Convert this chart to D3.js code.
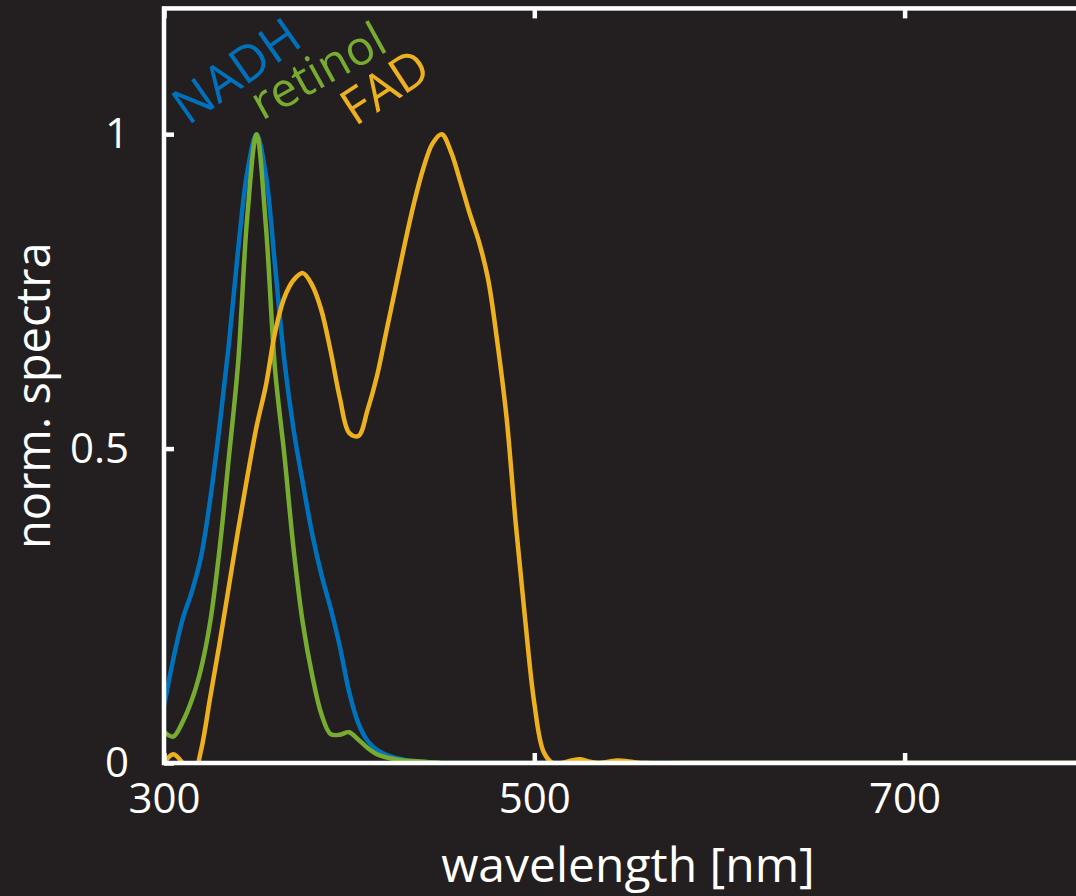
<!DOCTYPE html>
<html>
<head>
<meta charset="utf-8">
<script src="https://cdn.jsdelivr.net/npm/d3@7"></script>
<style>
  html, body { margin: 0; padding: 0; background: #231f20; }
  svg { display: block; }
  text { font-family: "Open Sans", "Noto Sans", sans-serif; fill: #ffffff; }
</style>
</head>
<body>
<svg id="chart" width="1076" height="896"></svg>
<script>
// Wavelength grid (nm) shared by the three spectra
const wavelengths = [
  300, 305, 310, 315, 320, 325, 330, 335, 340, 345,
  350, 355, 360, 365, 370, 375, 380, 385, 390, 395,
  400, 405, 410, 415, 420, 425, 430, 435, 440, 445,
  450, 455, 460, 465, 470, 475, 480, 485, 490, 495,
  500, 505, 510, 515, 520, 525, 530, 535, 540, 545,
  550, 555, 560, 600, 700, 800
];

// Normalised spectra
const nadh = [
  0.09, 0.165, 0.228, 0.272, 0.328, 0.42, 0.535, 0.665, 0.815, 0.94,
  1.0, 0.935, 0.79, 0.64, 0.53, 0.445, 0.365, 0.30, 0.246, 0.185,
  0.113, 0.063, 0.035, 0.021, 0.013, 0.008, 0.005, 0.003, 0.002, 0.001,
  0.0, 0.0, 0.0, 0.0, 0.0, 0.0, 0.0, 0.0, 0.0, 0.0,
  0.0, 0.0, 0.0, 0.0, 0.0, 0.0, 0.0, 0.0, 0.0, 0.0,
  0.0, 0.0, 0.0, 0.0, 0.0, 0.0
];
const retinol = [
  0.05, 0.042, 0.065, 0.10, 0.15, 0.225, 0.34, 0.485, 0.635, 0.87,
  1.0, 0.855, 0.625, 0.49, 0.34, 0.222, 0.14, 0.078, 0.046, 0.045,
  0.049, 0.037, 0.024, 0.014, 0.009, 0.006, 0.004, 0.003, 0.002, 0.001,
  0.0, 0.0, 0.0, 0.0, 0.0, 0.0, 0.0, 0.0, 0.0, 0.0,
  0.0, 0.0, 0.0, 0.0, 0.0, 0.0, 0.0, 0.0, 0.0, 0.0,
  0.0, 0.0, 0.0, 0.0, 0.0, 0.0
];
const fad = [
  0.0, 0.014, 0.0, -0.03, 0.02, 0.105, 0.19, 0.28, 0.37, 0.455,
  0.535, 0.60, 0.685, 0.74, 0.768, 0.779, 0.76, 0.72, 0.655, 0.58,
  0.525, 0.52, 0.562, 0.615, 0.685, 0.755, 0.825, 0.89, 0.945, 0.985,
  1.0, 0.972, 0.925, 0.875, 0.83, 0.77, 0.67, 0.55, 0.38, 0.23,
  0.095, 0.018, 0.0, 0.0, 0.004, 0.006, 0.002, 0.0, 0.002, 0.004,
  0.003, 0.001, 0.0, 0.0, 0.0, 0.0
];

const seriesNames = ["NADH", "retinol", "FAD"];
const seriesColors = ["#0072bd", "#77ac30", "#edb120"];
const seriesValues = [nadh, retinol, fad];

const xTicks = [300, 500, 700];
const yTicks = [0, 0.5, 1];
const yTickLabels = ["0", "0.5", "1"];

const xLabel = "wavelength [nm]";
const yLabel = "norm. spectra";

// Label placement for the series names (baseline start, rotation, size)
const seriesLabelPos = [
  { x: 188, y: 126, rot: -35, size: 50 },
  { x: 262, y: 121, rot: -29, size: 48 },
  { x: 355, y: 127, rot: -33, size: 50 }
];

const svg = d3.select("#chart");
const W = 1076, H = 896;

svg.append("rect").attr("width", W).attr("height", H).attr("fill", "#231f20");

const x = d3.scaleLinear().domain([300, 800]).range([164, 1089.75]);
const y = d3.scaleLinear().domain([0, 1.2]).range([763, 8.4]);

svg.append("defs").append("clipPath").attr("id", "plotClip")
  .append("rect")
  .attr("x", x(300)).attr("y", y(1.2))
  .attr("width", x(800) - x(300)).attr("height", y(0) - y(1.2));

const line = d3.line()
  .x((d, i) => x(wavelengths[i]))
  .y(d => y(d))
  .curve(d3.curveCatmullRom.alpha(0.5));

const plot = svg.append("g").attr("clip-path", "url(#plotClip)");
seriesValues.forEach((vals, k) => {
  plot.append("path")
    .datum(vals)
    .attr("fill", "none")
    .attr("stroke", seriesColors[k])
    .attr("stroke-width", 4.5)
    .attr("stroke-linejoin", "round")
    .attr("d", line);
});

// Series names
seriesNames.forEach((name, k) => {
  const p = seriesLabelPos[k];
  svg.append("text")
    .attr("transform", `translate(${p.x},${p.y}) rotate(${p.rot})`)
    .style("font-size", p.size + "px")
    .style("fill", seriesColors[k])
    .text(name);
});

// Axes: box with inward ticks
const axisStroke = 4.5;
const fs = 42;

const gBottom = svg.append("g").attr("transform", `translate(0,${y(0)})`)
  .call(d3.axisBottom(x).tickValues(xTicks).tickFormat(d3.format("d"))
    .tickSizeInner(-10).tickSizeOuter(0).tickPadding(20));
const gTop = svg.append("g").attr("transform", `translate(0,${y(1.2)})`)
  .call(d3.axisTop(x).tickValues(xTicks).tickFormat("")
    .tickSizeInner(-10).tickSizeOuter(0));
const gLeft = svg.append("g").attr("transform", `translate(${x(300)},0)`)
  .call(d3.axisLeft(y).tickValues(yTicks).tickFormat((d, i) => yTickLabels[i])
    .tickSizeInner(-10).tickSizeOuter(0).tickPadding(35));
const gRight = svg.append("g").attr("transform", `translate(${x(800)},0)`)
  .call(d3.axisRight(y).tickValues(yTicks).tickFormat("")
    .tickSizeInner(-10).tickSizeOuter(0));

[gBottom, gTop, gLeft, gRight].forEach(g => {
  g.select(".domain").remove();
  g.selectAll(".tick line").attr("stroke", "#ffffff").attr("stroke-width", axisStroke);
  g.selectAll(".tick text").style("font-size", fs + "px").attr("fill", "#ffffff")
    .style("font-family", "'Open Sans', 'Noto Sans', sans-serif");
});

// Box outline
svg.append("rect")
  .attr("x", x(300)).attr("y", y(1.2))
  .attr("width", x(800) - x(300)).attr("height", y(0) - y(1.2))
  .attr("fill", "none").attr("stroke", "#ffffff").attr("stroke-width", axisStroke);

// Axis titles
svg.append("text")
  .attr("x", 628).attr("y", 882)
  .attr("text-anchor", "middle")
  .style("font-size", "48px")
  .text(xLabel);

svg.append("text")
  .attr("transform", `translate(50,${(y(0) + y(1.2)) / 2 + 10}) rotate(-90)`)
  .attr("text-anchor", "middle")
  .style("font-size", "47px")
  .text(yLabel);
</script>
</body>
</html>
